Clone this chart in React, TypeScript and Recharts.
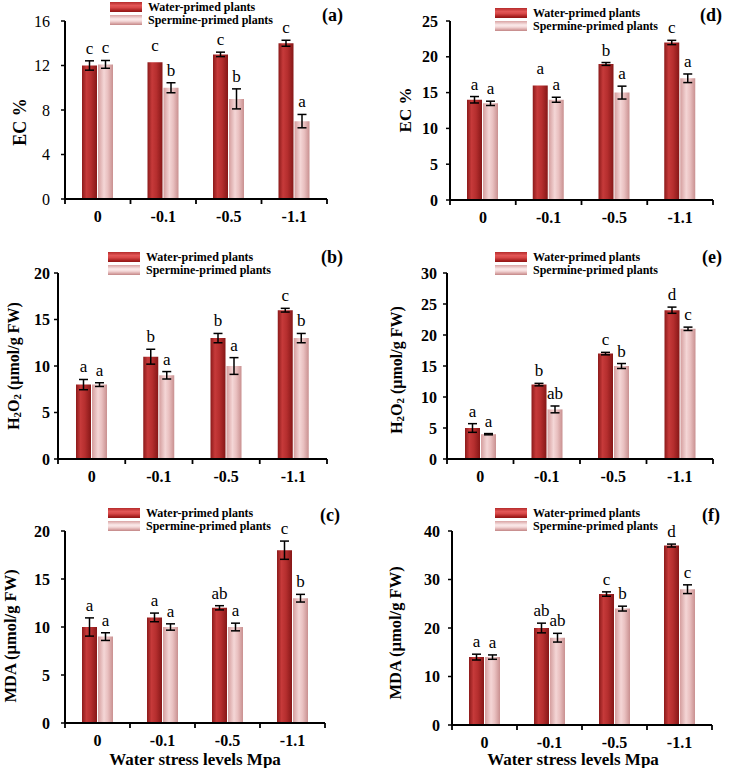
import React from 'react';
import { BarChart, Bar, XAxis, YAxis, ErrorBar, LabelList, Legend } from 'recharts';

const FONT = '"Liberation Serif", "Times New Roman", serif';

const categories = ['0', '-0.1', '-0.5', '-1.1'];
const seriesNames = ['Water-primed plants', 'Spermine-primed plants'];

// (a) EC %
const ecWaterA = [12, 12.3, 13, 14];
const ecWaterErrA = [0.42, null, 0.2, 0.27];
const ecSperA = [12.1, 10, 9, 7];
const ecSperErrA = [0.35, 0.45, 0.9, 0.6];
const ecWaterLetA = ['c', 'c', 'c', 'c'];
const ecSperLetA = ['c', 'b', 'b', 'a'];

// (b) H2O2
const h2WaterB = [8, 11, 13, 16];
const h2WaterErrB = [0.55, 0.8, 0.5, 0.2];
const h2SperB = [8, 9, 10, 13];
const h2SperErrB = [0.2, 0.4, 0.9, 0.5];
const h2WaterLetB = ['a', 'b', 'b', 'c'];
const h2SperLetB = ['a', 'a', 'a', 'b'];

// (c) MDA
const mdaWaterC = [10, 11, 12, 18];
const mdaWaterErrC = [0.95, 0.45, 0.22, 0.95];
const mdaSperC = [9, 10, 10, 13];
const mdaSperErrC = [0.4, 0.33, 0.4, 0.4];
const mdaWaterLetC = ['a', 'a', 'ab', 'c'];
const mdaSperLetC = ['a', 'a', 'a', 'b'];

// (d) EC %
const ecWaterD = [14, 16, 19, 22];
const ecWaterErrD = [0.45, null, 0.2, 0.3];
const ecSperD = [13.5, 14, 15, 17];
const ecSperErrD = [0.3, 0.35, 0.9, 0.6];
const ecWaterLetD = ['a', 'a', 'b', 'c'];
const ecSperLetD = ['a', 'a', 'a', 'a'];

// (e) H2O2
const h2WaterE = [5, 12, 17, 24];
const h2WaterErrE = [0.7, 0.2, 0.2, 0.5];
const h2SperE = [4, 8, 15, 21];
const h2SperErrE = [0.1, 0.55, 0.4, 0.27];
const h2WaterLetE = ['a', 'b', 'c', 'd'];
const h2SperLetE = ['a', 'ab', 'b', 'c'];

// (f) MDA
const mdaWaterF = [14, 20, 27, 37];
const mdaWaterErrF = [0.6, 1.0, 0.45, 0.3];
const mdaSperF = [14, 18, 24, 28];
const mdaSperErrF = [0.45, 0.9, 0.5, 0.9];
const mdaWaterLetF = ['a', 'ab', 'c', 'd'];
const mdaSperLetF = ['a', 'ab', 'b', 'c'];

const ticks16 = [0, 4, 8, 12, 16];
const ticks20 = [0, 5, 10, 15, 20];
const ticks25 = [0, 5, 10, 15, 20, 25];
const ticks30 = [0, 5, 10, 15, 20, 25, 30];
const ticks40 = [0, 10, 20, 30, 40];

const xAxisTitle = 'Water stress levels Mpa';

type Part = { t: string; sub?: boolean };
const ecLabel: Part[] = [{ t: 'EC %' }];
const h2Label: Part[] = [{ t: 'H' }, { t: '2', sub: true }, { t: 'O' }, { t: '2', sub: true }, { t: ' (µmol/g FW)' }];
const mdaLabel: Part[] = [{ t: 'MDA (µmol/g FW)' }];

type Panel = {
  id: string;
  tag: string;
  x0: number; y0: number; w: number; h: number;
  plot: { l: number; r: number; t: number; b: number };
  ticks: number[];
  yTickBold: boolean;
  tickMargin: number;
  yLabel: Part[];
  yLabelSize: number;
  yLabelPos: [number, number];
  legendPos: [number, number];
  tagPos: [number, number];
  xLabelPos?: [number, number];
  water: number[]; waterErr: (number | null)[];
  sper: number[]; sperErr: (number | null)[];
  waterLet: string[]; sperLet: string[];
};

const panels: Panel[] = [
  {
    id: 'a', tag: '(a)', x0: 0, y0: 0, w: 360, h: 250,
    plot: { l: 65, r: 327, t: 21, b: 199 }, ticks: ticks16, yTickBold: false, tickMargin: 11,
    yLabel: ecLabel, yLabelSize: 18, yLabelPos: [20, 122], legendPos: [110, 0.5], tagPos: [322, 15],
    water: ecWaterA, waterErr: ecWaterErrA, sper: ecSperA, sperErr: ecSperErrA, waterLet: ecWaterLetA, sperLet: ecSperLetA,
  },
  {
    id: 'b', tag: '(b)', x0: 0, y0: 250, w: 360, h: 250,
    plot: { l: 58, r: 327, t: 273, b: 459 }, ticks: ticks20, yTickBold: true, tickMargin: 4,
    yLabel: h2Label, yLabelSize: 16, yLabelPos: [13, 366], legendPos: [108, 250.5], tagPos: [321, 257],
    water: h2WaterB, waterErr: h2WaterErrB, sper: h2SperB, sperErr: h2SperErrB, waterLet: h2WaterLetB, sperLet: h2SperLetB,
  },
  {
    id: 'c', tag: '(c)', x0: 0, y0: 500, w: 360, h: 268,
    plot: { l: 65, r: 325, t: 531, b: 723 }, ticks: ticks20, yTickBold: true, tickMargin: 11,
    yLabel: mdaLabel, yLabelSize: 16.5, yLabelPos: [10, 636], legendPos: [108, 506.5], tagPos: [320, 515],
    xLabelPos: [195, 759],
    water: mdaWaterC, waterErr: mdaWaterErrC, sper: mdaSperC, sperErr: mdaSperErrC, waterLet: mdaWaterLetC, sperLet: mdaSperLetC,
  },
  {
    id: 'd', tag: '(d)', x0: 360, y0: 0, w: 371, h: 250,
    plot: { l: 450, r: 713, t: 21, b: 200 }, ticks: ticks25, yTickBold: true, tickMargin: 8,
    yLabel: ecLabel, yLabelSize: 17, yLabelPos: [405, 110], legendPos: [495, 6.5], tagPos: [700, 15],
    water: ecWaterD, waterErr: ecWaterErrD, sper: ecSperD, sperErr: ecSperErrD, waterLet: ecWaterLetD, sperLet: ecSperLetD,
  },
  {
    id: 'e', tag: '(e)', x0: 360, y0: 250, w: 371, h: 250,
    plot: { l: 447, r: 713, t: 273, b: 459 }, ticks: ticks30, yTickBold: true, tickMargin: 6,
    yLabel: h2Label, yLabelSize: 16, yLabelPos: [396, 370], legendPos: [495, 250.5], tagPos: [702, 257],
    water: h2WaterE, waterErr: h2WaterErrE, sper: h2SperE, sperErr: h2SperErrE, waterLet: h2WaterLetE, sperLet: h2SperLetE,
  },
  {
    id: 'f', tag: '(f)', x0: 360, y0: 500, w: 371, h: 268,
    plot: { l: 452, r: 712, t: 531, b: 725 }, ticks: ticks40, yTickBold: true, tickMargin: 8,
    yLabel: mdaLabel, yLabelSize: 16.5, yLabelPos: [395, 633], legendPos: [495, 506.5], tagPos: [702, 515],
    xLabelPos: [573, 759],
    water: mdaWaterF, waterErr: mdaWaterErrF, sper: mdaSperF, sperErr: mdaSperErrF, waterLet: mdaWaterLetF, sperLet: mdaSperLetF,
  },
];

const XH = 40;

const XTick = (props: any) => {
  const { x, y, payload, index, band } = props;
  return (
    <g>
      <line x1={x - band / 2} y1={y} x2={x - band / 2} y2={y + 5} stroke="#000" strokeWidth={1.8} />
      {index === categories.length - 1 && (
        <line x1={x + band / 2} y1={y} x2={x + band / 2} y2={y + 5} stroke="#000" strokeWidth={1.8} />
      )}
      <text x={x} y={y + 17} textAnchor="middle" dominantBaseline="central" fontFamily={FONT} fontWeight="bold" fontSize={16} fill="#000">
        {payload.value}
      </text>
    </g>
  );
};

const letterContent = (letters: string[], errs: (number | null)[]) => (props: any) => {
  const vb = props.viewBox || {};
  const x = props.x ?? vb.x;
  const y = props.y ?? vb.y;
  const width = props.width ?? vb.width;
  const height = props.height ?? vb.height;
  const index = props.index;
  const v = Number(props.value);
  const ppu = v ? Math.abs(height) / v : 0;
  const e = errs[index];
  const off = e == null ? 11 : e * ppu + 7;
  return (
    <text key={`l-${index}`} x={x + width / 2} y={y - off} textAnchor="middle" fontFamily={FONT} fontSize={17} fill="#000">
      {letters[index]}
    </text>
  );
};

const waterSwatch = 'linear-gradient(to bottom, #b52a2a 0%, #e25656 35%, #d84848 55%, #a81f1f 85%, #8e1616 100%)';
const sperSwatch = 'linear-gradient(to bottom, #d9a3a3 0%, #fbeaea 40%, #f5dada 60%, #d29a9a 90%, #c08686 100%)';

const LegendBox = () => (
  <div style={{ fontFamily: FONT, fontWeight: 'bold', fontSize: 12, lineHeight: '13px', color: '#000', whiteSpace: 'nowrap' }}>
    <div style={{ display: 'flex', alignItems: 'center', height: 13 }}>
      <span style={{ display: 'inline-block', width: 32, height: 10, background: waterSwatch, marginRight: 6 }} />
      {seriesNames[0]}
    </div>
    <div style={{ display: 'flex', alignItems: 'center', height: 13 }}>
      <span style={{ display: 'inline-block', width: 32, height: 10, background: sperSwatch, marginRight: 6 }} />
      {seriesNames[1]}
    </div>
  </div>
);

const YTitle = ({ parts, cx, cy, size }: { parts: Part[]; cx: number; cy: number; size: number }) => (
  <text
    x={cx}
    y={cy}
    transform={`rotate(-90 ${cx} ${cy})`}
    textAnchor="middle"
    dominantBaseline="central"
    fontFamily={FONT}
    fontWeight="bold"
    fontSize={size}
    fill="#000"
  >
    {parts.map((p, i) => {
      const prevSub = i > 0 && parts[i - 1].sub;
      const dy = p.sub ? 4 : prevSub ? -4 : 0;
      return (
        <tspan key={i} dy={dy} fontSize={p.sub ? size * 0.68 : size}>
          {p.t}
        </tspan>
      );
    })}
  </text>
);

function PanelChart({ p }: { p: Panel }) {
  const data = categories.map((c, i) => ({
    cat: c,
    water: p.water[i],
    waterErr: p.waterErr[i],
    sper: p.sper[i],
    sperErr: p.sperErr[i],
  }));
  const yAxisWidth = p.plot.l - p.x0;
  const margin = {
    top: p.plot.t - p.y0,
    right: p.x0 + p.w - p.plot.r,
    left: 0,
    bottom: p.y0 + p.h - p.plot.b - XH,
  };
  const band = (p.plot.r - p.plot.l) / categories.length;
  const max = p.ticks[p.ticks.length - 1];
  const gw = `gw-${p.id}`;
  const gs = `gs-${p.id}`;
  return (
    <div style={{ position: 'absolute', left: p.x0, top: p.y0, width: p.w, height: p.h }}>
      <BarChart width={p.w} height={p.h} data={data} margin={margin} barSize={15} barGap={1}>
        <defs>
          <linearGradient id={gw} x1="0" y1="0" x2="1" y2="0">
            <stop offset="0%" stopColor="#8c1a1a" />
            <stop offset="30%" stopColor="#c63a3a" />
            <stop offset="60%" stopColor="#b52e2e" />
            <stop offset="100%" stopColor="#861717" />
          </linearGradient>
          <linearGradient id={gs} x1="0" y1="0" x2="1" y2="0">
            <stop offset="0%" stopColor="#d49d9d" />
            <stop offset="40%" stopColor="#f4d6d6" />
            <stop offset="65%" stopColor="#e9c0c0" />
            <stop offset="100%" stopColor="#c99090" />
          </linearGradient>
        </defs>
        <XAxis
          dataKey="cat"
          height={XH}
          interval={0}
          axisLine={{ stroke: '#000', strokeWidth: 2 }}
          tickLine={false}
          tickSize={0}
          tickMargin={0}
          tick={<XTick band={band} />}
          label={
            p.xLabelPos
              ? {
                  content: () => (
                    <text
                      x={p.xLabelPos![0] - p.x0}
                      y={p.xLabelPos![1] - p.y0}
                      textAnchor="middle"
                      dominantBaseline="central"
                      fontFamily={FONT}
                      fontWeight="bold"
                      fontSize={17}
                      fill="#000"
                    >
                      {xAxisTitle}
                    </text>
                  ),
                }
              : undefined
          }
        />
        <YAxis
          width={yAxisWidth}
          domain={[0, max]}
          ticks={p.ticks}
          interval={0}
          allowDecimals={false}
          axisLine={{ stroke: '#000', strokeWidth: 2 }}
          tickLine={{ stroke: '#000', strokeWidth: 1.5 }}
          tickSize={4}
          tickMargin={p.tickMargin}
          tick={{ fontFamily: FONT, fontWeight: p.yTickBold ? 'bold' : 'normal', fontSize: 16, fill: '#000' }}
          label={{
            content: () => (
              <YTitle parts={p.yLabel} cx={p.yLabelPos[0] - p.x0} cy={p.yLabelPos[1] - p.y0} size={p.yLabelSize} />
            ),
          }}
        />
        <Bar dataKey="water" name={seriesNames[0]} fill={`url(#${gw})`} isAnimationActive={false}>
          <ErrorBar dataKey="waterErr" width={4.5} stroke="#000" strokeWidth={1.5} isAnimationActive={false} />
          <LabelList dataKey="water" content={letterContent(p.waterLet, p.waterErr)} />
        </Bar>
        <Bar dataKey="sper" name={seriesNames[1]} fill={`url(#${gs})`} isAnimationActive={false}>
          <ErrorBar dataKey="sperErr" width={4.5} stroke="#000" strokeWidth={1.5} isAnimationActive={false} />
          <LabelList dataKey="sper" content={letterContent(p.sperLet, p.sperErr)} />
        </Bar>
        <Legend
          layout="vertical"
          align="center"
          verticalAlign="middle"
          content={() => <LegendBox />}
          wrapperStyle={{
            position: 'absolute',
            left: p.legendPos[0] - p.x0,
            top: p.legendPos[1] - p.y0,
            width: 'auto',
            height: 'auto',
            margin: 0,
          }}
        />
      </BarChart>
      <div
        style={{
          position: 'absolute',
          left: p.tagPos[0] - p.x0,
          top: p.tagPos[1] - p.y0 - 11,
          fontFamily: FONT,
          fontWeight: 'bold',
          fontSize: 18,
          lineHeight: '22px',
          color: '#000',
          whiteSpace: 'nowrap',
        }}
      >
        {p.tag}
      </div>
    </div>
  );
}

export default function App() {
  return (
    <div style={{ position: 'absolute', left: 0, top: 0, width: 731, height: 768, background: '#fff', overflow: 'hidden' }}>
      {panels.map((p) => (
        <PanelChart key={p.id} p={p} />
      ))}
    </div>
  );
}
